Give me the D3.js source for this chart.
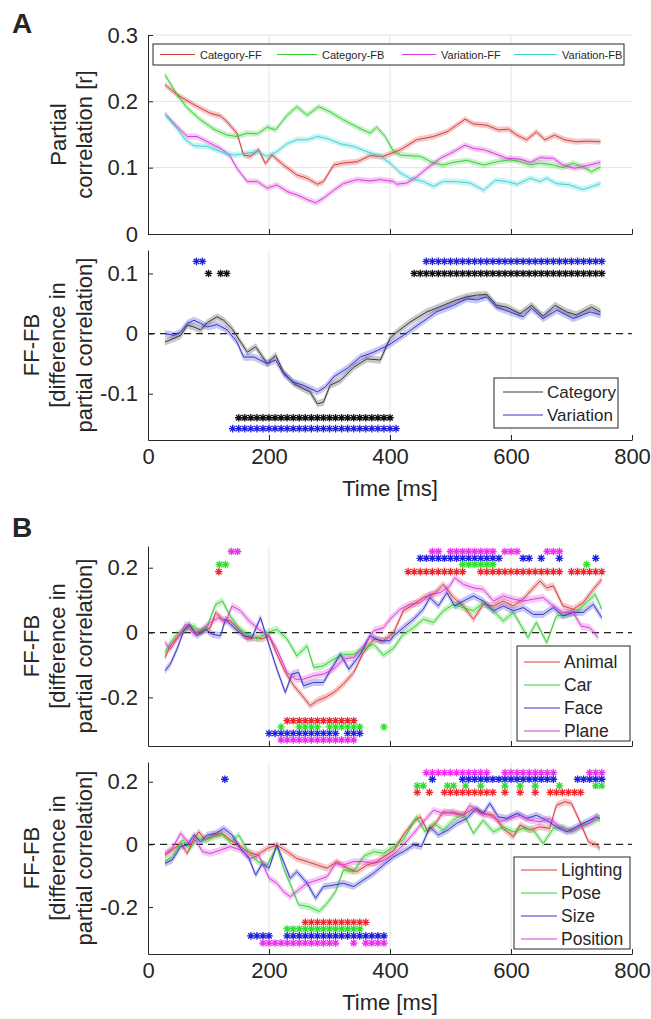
<!DOCTYPE html>
<html>
<head>
<meta charset="utf-8">
<script src="https://cdn.jsdelivr.net/npm/d3@7"></script>
<style>
  body { margin: 0; background: #fff; }
  svg { display: block; }
  text { font-family: "Liberation Sans", Arial, sans-serif; fill: #262626; }
</style>
</head>
<body>
<div id="chart"></div>
<script>
// ---- data: [time (ms), value] ----
const catFF = [[28,.225],[48,.21],[76,.195],[103,.182],[120,.178],[131,.169],[147,.152],[158,.119],[169,.117],[183,.127],[194,.106],[205,.119],[224,.104],[246,.089],[263,.084],[280,.075],[290,.079],[307,.104],[323,.107],[346,.109],[367,.118],[389,.117],[417,.127],[444,.142],[472,.147],[494,.154],[510,.164],[524,.173],[538,.166],[560,.164],[579,.157],[596,.158],[610,.149],[626,.142],[642,.154],[656,.142],[672,.149],[689,.142],[708,.139],[725,.140],[748,.139]];
const catFB = [[28,.24],[48,.21],[65,.19],[87,.172],[109,.158],[131,.149],[147,.147],[164,.152],[181,.151],[197,.161],[211,.157],[230,.179],[246,.192],[263,.179],[282,.192],[301,.184],[323,.172],[346,.161],[367,.152],[378,.161],[392,.147],[406,.124],[417,.119],[433,.118],[450,.117],[472,.107],[488,.104],[505,.108],[527,.111],[555,.104],[577,.109],[599,.112],[615,.109],[632,.104],[648,.107],[670,.104],[686,.10],[702,.107],[719,.101],[733,.094],[748,.101]];
const varFF = [[28,.181],[48,.162],[65,.147],[81,.147],[98,.139],[120,.129],[136,.117],[147,.099],[164,.079],[181,.079],[197,.069],[213,.074],[230,.064],[246,.059],[263,.052],[277,.047],[290,.054],[307,.066],[323,.076],[346,.082],[367,.080],[384,.082],[406,.079],[411,.075],[428,.077],[444,.086],[461,.099],[483,.114],[505,.124],[524,.134],[538,.129],[555,.127],[571,.122],[593,.114],[615,.113],[632,.108],[648,.115],[670,.114],[686,.104],[705,.099],[725,.103],[748,.108]];
const varFB = [[28,.181],[48,.159],[62,.142],[76,.133],[98,.132],[120,.124],[142,.119],[164,.122],[181,.124],[197,.117],[213,.124],[230,.136],[246,.142],[263,.142],[280,.147],[296,.144],[318,.136],[340,.132],[362,.124],[384,.117],[400,.107],[417,.092],[433,.084],[455,.079],[472,.072],[488,.079],[510,.079],[532,.077],[555,.066],[574,.081],[593,.079],[610,.075],[632,.084],[648,.079],[659,.084],[675,.076],[697,.074],[719,.067],[748,.076]];

const diffCategory = [[28,-.014],[43,-.008],[54,-.003],[65,.014],[76,.011],[87,.006],[98,.018],[114,.028],[125,.022],[139,.008],[153,-.014],[164,-.031],[178,-.022],[197,-.05],[211,-.036],[224,-.064],[241,-.083],[257,-.092],[268,-.097],[280,-.117],[290,-.114],[301,-.086],[318,-.078],[340,-.056],[362,-.042],[384,-.044],[400,-.008],[411,.002],[433,.019],[461,.036],[488,.047],[510,.056],[527,.061],[543,.064],[560,.065],[576,.047],[593,.044],[615,.033],[634,.047],[653,.029],[673,.047],[692,.036],[708,.031],[733,.044],[748,.036]];
const diffVariation = [[28,0],[43,-.003],[54,.003],[65,.017],[76,.022],[87,.017],[98,.011],[114,.015],[131,.006],[147,-.014],[158,-.039],[175,-.039],[197,-.05],[211,-.044],[224,-.067],[241,-.081],[257,-.086],[280,-.097],[293,-.089],[307,-.072],[329,-.058],[351,-.039],[373,-.031],[398,-.019],[422,-.003],[450,.017],[477,.036],[505,.047],[527,.058],[543,.056],[560,.061],[576,.044],[598,.036],[620,.028],[634,.042],[653,.025],[676,.039],[703,.025],[731,.036],[748,.031]];

const diffAnimal = [[28,-.077],[37,-.041],[48,-.015],[59,.005],[68,.02],[79,0],[92,.005],[103,.015],[112,.062],[123,.041],[136,.036],[150,.01],[164,-.02],[178,-.015],[189,-.02],[200,-.01],[213,-.067],[227,-.123],[241,-.164],[255,-.195],[268,-.226],[280,-.21],[293,-.2],[307,-.185],[323,-.159],[340,-.123],[356,-.062],[373,-.02],[389,-.025],[406,0],[422,.067],[439,.087],[455,.108],[472,.118],[488,.149],[505,.108],[521,.082],[538,.041],[554,.087],[571,.082],[587,.097],[604,.082],[620,.103],[637,.138],[648,.159],[659,.138],[670,.144],[686,.082],[703,.072],[719,.092],[736,.133],[750,.164]];
const diffCar = [[28,-.062],[37,-.031],[48,-.005],[62,.01],[76,.02],[87,0],[98,.02],[112,.087],[123,.097],[136,.051],[150,.015],[164,-.005],[181,-.02],[197,0],[213,.01],[230,-.02],[246,-.072],[263,-.041],[274,-.108],[290,-.103],[307,-.082],[323,-.067],[340,-.067],[356,-.051],[373,-.036],[389,-.07],[406,-.048],[422,-.005],[439,.015],[455,.041],[472,.031],[488,.067],[505,.087],[521,.077],[538,.067],[554,.092],[571,.067],[587,.036],[604,.062],[620,.01],[628,-.015],[642,.031],[659,-.031],[675,.051],[692,.056],[708,.062],[725,.092],[739,.118],[750,.072]];
const diffFace = [[28,-.118],[37,-.097],[48,-.051],[59,.005],[68,.026],[81,-.01],[95,.01],[106,-.005],[120,-.01],[128,.041],[142,.015],[158,-.01],[172,-.015],[186,.046],[197,-.02],[213,-.113],[227,-.185],[238,-.128],[249,-.123],[257,-.164],[274,-.154],[290,-.154],[301,-.118],[318,-.067],[332,-.113],[351,-.067],[367,-.01],[384,-.026],[400,-.025],[406,-.01],[422,.015],[439,.041],[455,.072],[466,.108],[480,.082],[494,.123],[507,.082],[521,.097],[538,.113],[554,.097],[571,.067],[587,.082],[604,.067],[620,.077],[637,.056],[653,.056],[670,.077],[686,.051],[703,.062],[719,.062],[736,.087],[750,.046]];
const diffPlane = [[28,-.031],[37,-.051],[48,-.02],[62,.026],[76,-.005],[90,.01],[103,.031],[117,.046],[128,.031],[139,.082],[153,.067],[167,.036],[183,.01],[200,-.01],[213,-.051],[230,-.123],[244,-.144],[257,-.144],[274,-.133],[290,-.128],[307,-.113],[323,-.082],[340,-.077],[356,-.041],[373,.005],[389,.015],[400,.041],[417,.072],[433,.087],[450,.092],[466,.118],[483,.123],[499,.144],[507,.169],[521,.149],[538,.138],[554,.133],[571,.097],[587,.113],[604,.103],[620,.097],[637,.103],[653,.108],[670,.082],[686,.062],[703,.062],[716,.02],[730,.015],[744,-.015]];

const diffLighting = [[28,-.034],[40,-.018],[54,.003],[65,-.029],[76,.019],[84,.04],[95,.014],[109,.03],[123,.035],[136,.014],[150,-.002],[164,-.023],[181,-.034],[197,-.013],[213,-.002],[230,-.023],[246,-.045],[263,-.055],[280,-.066],[296,-.076],[312,-.055],[329,-.076],[345,-.087],[362,-.066],[378,-.055],[389,-.04],[406,-.02],[422,.03],[439,.072],[450,.088],[463,.04],[477,.072],[488,.104],[505,.099],[521,.093],[538,.115],[554,.099],[571,.093],[587,.051],[604,.024],[615,.062],[631,.046],[648,.056],[664,.051],[675,.125],[689,.136],[700,.131],[714,.072],[728,.008],[741,-.002],[747,-.013]];
const diffPose = [[28,-.055],[40,-.039],[57,.014],[70,-.013],[81,.019],[95,.014],[109,.024],[123,.03],[136,.008],[150,.03],[164,-.018],[181,-.055],[197,-.066],[213,-.007],[224,-.076],[238,-.14],[249,-.193],[266,-.199],[283,-.214],[296,-.188],[310,-.151],[323,-.082],[340,-.087],[356,-.039],[373,-.023],[389,-.028],[406,-.007],[422,.014],[444,.088],[458,.04],[472,.067],[488,.046],[505,.077],[521,.099],[538,.035],[554,.077],[571,.04],[587,.056],[604,.04],[620,.051],[637,.046],[653,.003],[670,.051],[686,.056],[703,.04],[719,.062],[736,.072],[747,.083]];
const diffSize = [[28,-.061],[40,-.05],[54,-.007],[65,-.002],[76,.03],[87,.008],[98,.03],[112,.035],[125,.051],[139,.03],[153,-.013],[167,-.045],[178,-.098],[189,-.061],[200,-.076],[213,-.002],[224,-.055],[235,-.108],[246,-.087],[263,-.124],[277,-.172],[290,-.135],[307,-.13],[323,-.124],[340,-.135],[356,-.114],[373,-.092],[389,-.066],[406,-.04],[422,-.023],[439,-.002],[452,-.007],[466,.056],[480,.03],[496,.046],[510,.067],[527,.083],[543,.115],[554,.099],[565,.131],[579,.088],[593,.083],[610,.099],[626,.083],[642,.093],[659,.077],[675,.056],[692,.04],[708,.056],[725,.072],[741,.088],[747,.083]];
const diffPosition = [[28,-.029],[40,-.013],[54,.035],[68,.003],[79,.014],[90,-.023],[103,-.029],[120,-.018],[136,-.007],[153,-.018],[170,-.045],[183,-.034],[200,-.108],[213,-.124],[224,-.151],[235,-.167],[249,-.145],[263,-.124],[280,-.114],[296,-.103],[310,-.061],[323,-.066],[340,-.055],[356,-.055],[373,-.061],[389,-.052],[406,-.032],[422,-.002],[439,.035],[455,.072],[472,.109],[488,.099],[505,.104],[521,.093],[532,.125],[549,.099],[565,.093],[582,.072],[598,.083],[615,.093],[631,.077],[648,.072],[664,.083],[681,.056],[697,.04],[714,.056],[730,.067],[744,.093]];

// ---- significance intervals [start, end] in ms (one marker every 10 ms) ----
const sigCatHigh = [[100,100],[120,130],[440,750]];
const sigVarHigh = [[80,90],[460,750]];
const sigCatLow = [[150,400]];
const sigVarLow = [[140,410]];

const sigAnimalHigh = [[117,117],[430,520],[550,680],[700,750]];
const sigCarHigh = [[118,128],[520,570],[725,725]];
const sigFaceHigh = [[450,570],[580,580],[620,630],[650,650],[680,680],[740,740]];
const sigPlaneHigh = [[138,148],[470,480],[500,570],[590,610],[660,680]];
const sigAnimalLow = [[230,340]];
const sigCarLow = [[220,220],[250,280],[300,350],[390,390]];
const sigFaceLow = [[200,310],[330,350]];
const sigPlaneLow = [[220,340]];

const sigLightingHigh = [[445,445],[465,465],[490,570],[590,590],[615,615],[640,640],[665,715]];
const sigPoseHigh = [[445,455],[495,505],[525,525],[550,550],[590,590],[615,615],[640,640],[680,680],[740,750]];
const sigSizeHigh = [[127,127],[470,470],[520,670],[710,750]];
const sigPositionHigh = [[460,560],[590,670],[730,750]];
const sigLightingLow = [[260,360]];
const sigPoseLow = [[230,350]];
const sigSizeLow = [[170,200],[230,390]];
const sigPositionLow = [[190,310],[340,340],[360,390]];

// ---- labels / ticks ----
const xTicks = [0, 200, 400, 600, 800];
const legendA1 = ["Category-FF", "Category-FB", "Variation-FF", "Variation-FB"];
const legendA2 = ["Category", "Variation"];
const legendB1 = ["Animal", "Car", "Face", "Plane"];
const legendB2 = ["Lighting", "Pose", "Size", "Position"];

const col = {
    red: "#d83a3a", green: "#35cf35", magenta: "#d83cd8", cyan: "#3fd3d3", blue: "#3535cf", black: "#3a3a3a"
};
const starCol = {
    red: "#f0262b", green: "#2ee02e", magenta: "#f02ef0", blue: "#2020e0", black: "#111111"
};

const width = 651, height = 1019;
const plotLeft = 148, plotRight = 632;
const svg = d3.select("#chart").append("svg").attr("width", width).attr("height", height);
const x = d3.scaleLinear().domain([0, 800]).range([plotLeft, plotRight]);
const fmt = d => d === 0 ? "0" : String(d);

function starPath(r) {
    const a = r * 0.72;
    return `M${-r},0L${r},0M0,${-r}L0,${r}M${-a},${-a}L${a},${a}M${-a},${a}L${a},${-a}`;
}

function expand(intervals) {
    return intervals.flatMap(([a, b]) => d3.range(a, b + 0.1, 10));
}

function drawPanel(p) {
    const y = d3.scaleLinear().domain(p.yDomain).range([p.bottom, p.top]);
    const g = svg.append("g");

    // grid
    g.selectAll(".vgrid").data([200, 400, 600]).join("line")
        .attr("x1", d => x(d)).attr("x2", d => x(d))
        .attr("y1", p.top).attr("y2", p.bottom)
        .attr("stroke", "#e3e3e3").attr("stroke-width", 1);
    if (p.hGrid) {
        g.selectAll(".hgrid").data(p.hGrid).join("line")
            .attr("x1", plotLeft).attr("x2", plotRight)
            .attr("y1", d => y(d)).attr("y2", d => y(d))
            .attr("stroke", "#e3e3e3").attr("stroke-width", 1);
    }
    if (p.zeroLine) {
        g.append("line")
            .attr("x1", plotLeft).attr("x2", plotRight)
            .attr("y1", y(0)).attr("y2", y(0))
            .attr("stroke", "#222").attr("stroke-width", 1.2)
            .attr("stroke-dasharray", "7,5");
    }

    // shaded bands and lines
    const area = d3.area().x(d => x(d[0])).y0(d => y(d[1] - p.band)).y1(d => y(d[1] + p.band));
    const line = d3.line().x(d => x(d[0])).y(d => y(d[1]));
    p.series.forEach(s => {
        g.append("path").datum(s.data).attr("d", area)
            .attr("fill", s.color).attr("opacity", 0.28);
    });
    p.series.forEach(s => {
        g.append("path").datum(s.data).attr("d", line)
            .attr("fill", "none").attr("stroke", s.color).attr("stroke-width", 1);
    });

    // significance markers
    (p.stars || []).forEach(st => {
        g.selectAll(null).data(expand(st.intervals)).join("path")
            .attr("transform", d => `translate(${x(d)},${y(st.level)})`)
            .attr("d", starPath(3.8))
            .attr("fill", "none").attr("stroke", st.color).attr("stroke-width", 1.3);
    });

    // axes
    const yAxis = d3.axisLeft(y).tickValues(p.yTicks).tickFormat(fmt)
        .tickSize(-5).tickSizeOuter(0).tickPadding(10);
    const ya = g.append("g").attr("transform", `translate(${plotLeft},0)`).call(yAxis);
    const xAxis = d3.axisBottom(x).tickValues(xTicks).tickSize(-5).tickSizeOuter(0).tickPadding(8)
        .tickFormat(p.xLabels ? d3.format("d") : "");
    const xa = g.append("g").attr("transform", `translate(0,${p.bottom})`).call(xAxis);
    [ya, xa].forEach(a => {
        a.selectAll("path, line").attr("stroke", "#262626");
        a.selectAll("text").attr("fill", "#262626").style("font-size", "22px")
            .style("font-family", '"Liberation Sans", Arial, sans-serif');
    });

    // y label lines
    const cy = (p.top + p.bottom) / 2;
    p.yLabel.forEach((t, i) => {
        svg.append("text")
            .attr("transform", `translate(${p.yLabelX[i]},${cy}) rotate(-90)`)
            .attr("text-anchor", "middle").attr("dominant-baseline", "central")
            .style("font-size", "22px").text(t);
    });
    if (p.xLabels) {
        svg.append("text").attr("x", (plotLeft + plotRight) / 2).attr("y", p.bottom + 56)
            .attr("text-anchor", "middle").style("font-size", "22px").text("Time [ms]");
    }
    return y;
}

function drawLegend(box, items, font) {
    const g = svg.append("g");
    g.append("rect").attr("x", box.x).attr("y", box.y).attr("width", box.w).attr("height", box.h)
        .attr("fill", "#fff").attr("stroke", "#262626").attr("stroke-width", 1);
    items.forEach(it => {
        g.append("line").attr("x1", it.x1).attr("x2", it.x2).attr("y1", it.y).attr("y2", it.y)
            .attr("stroke", it.color).attr("stroke-width", 1.2);
        g.append("text").attr("x", it.tx).attr("y", it.y).attr("dominant-baseline", "central")
            .style("font-size", font + "px").text(it.label);
    });
}

// ---- Panel A, top ----
drawPanel({
    top: 35, bottom: 234, yDomain: [0, 0.3], yTicks: [0, 0.1, 0.2, 0.3], hGrid: [0.1, 0.2, 0.3],
    band: 0.0045, xLabels: false,
    series: [
        {data: catFF, color: col.red}, {data: catFB, color: col.green},
        {data: varFF, color: col.magenta}, {data: varFB, color: col.cyan}
    ],
    yLabel: ["Partial", "correlation [r]"], yLabelX: [58, 84]
});
drawLegend({x: 153, y: 44, w: 471, h: 21}, [
    {x1: 160, x2: 195, tx: 200, y: 54.5, color: col.red, label: legendA1[0]},
    {x1: 277, x2: 317, tx: 322, y: 54.5, color: col.green, label: legendA1[1]},
    {x1: 402, x2: 436, tx: 441, y: 54.5, color: col.magenta, label: legendA1[2]},
    {x1: 514, x2: 557, tx: 562, y: 54.5, color: col.cyan, label: legendA1[3]}
], 11);

// ---- Panel A, bottom ----
drawPanel({
    top: 250, bottom: 440, yDomain: [-0.177, 0.139], yTicks: [-0.1, 0, 0.1],
    band: 0.006, xLabels: true, zeroLine: true,
    series: [{data: diffCategory, color: col.black}, {data: diffVariation, color: col.blue}],
    stars: [
        {intervals: sigVarHigh, level: 0.12, color: starCol.blue},
        {intervals: sigCatHigh, level: 0.1, color: starCol.black},
        {intervals: sigCatLow, level: -0.14, color: starCol.black},
        {intervals: sigVarLow, level: -0.158, color: starCol.blue}
    ],
    yLabel: ["FF-FB", "[difference in", "partial correlation]"], yLabelX: [31, 57, 84]
});
drawLegend({x: 494, y: 378, w: 124, h: 50}, [
    {x1: 503, x2: 543, tx: 547, y: 392, color: col.black, label: legendA2[0]},
    {x1: 503, x2: 543, tx: 547, y: 415, color: col.blue, label: legendA2[1]}
], 17);

// ---- Panel B, top ----
drawPanel({
    top: 546, bottom: 746, yDomain: [-0.35, 0.267], yTicks: [-0.2, 0, 0.2],
    band: 0.011, xLabels: false, zeroLine: true,
    series: [
        {data: diffAnimal, color: col.red}, {data: diffCar, color: col.green},
        {data: diffFace, color: col.blue}, {data: diffPlane, color: col.magenta}
    ],
    stars: [
        {intervals: sigPlaneHigh, level: 0.25, color: starCol.magenta},
        {intervals: sigFaceHigh, level: 0.229, color: starCol.blue},
        {intervals: sigCarHigh, level: 0.21, color: starCol.green},
        {intervals: sigAnimalHigh, level: 0.188, color: starCol.red},
        {intervals: sigAnimalLow, level: -0.272, color: starCol.red},
        {intervals: sigCarLow, level: -0.291, color: starCol.green},
        {intervals: sigFaceLow, level: -0.311, color: starCol.blue},
        {intervals: sigPlaneLow, level: -0.331, color: starCol.magenta}
    ],
    yLabel: ["FF-FB", "[difference in", "partial correlation]"], yLabelX: [31, 57, 84]
});
drawLegend({x: 517, y: 646, w: 113, h: 95}, legendB1.map((l, i) => ({
    x1: 524, x2: 560, tx: 564, y: 662 + i * 23,
    color: [col.red, col.green, col.blue, col.magenta][i], label: l
})), 17.5);

// ---- Panel B, bottom ----
drawPanel({
    top: 762, bottom: 954, yDomain: [-0.35, 0.263], yTicks: [-0.2, 0, 0.2],
    band: 0.011, xLabels: true, zeroLine: true,
    series: [
        {data: diffLighting, color: col.red}, {data: diffPose, color: col.green},
        {data: diffSize, color: col.blue}, {data: diffPosition, color: col.magenta}
    ],
    stars: [
        {intervals: sigPositionHigh, level: 0.229, color: starCol.magenta},
        {intervals: sigSizeHigh, level: 0.208, color: starCol.blue},
        {intervals: sigPoseHigh, level: 0.187, color: starCol.green},
        {intervals: sigLightingHigh, level: 0.166, color: starCol.red},
        {intervals: sigLightingLow, level: -0.249, color: starCol.red},
        {intervals: sigPoseLow, level: -0.27, color: starCol.green},
        {intervals: sigSizeLow, level: -0.292, color: starCol.blue},
        {intervals: sigPositionLow, level: -0.315, color: starCol.magenta}
    ],
    yLabel: ["FF-FB", "[difference in", "partial correlation]"], yLabelX: [31, 57, 84]
});
drawLegend({x: 514, y: 857, w: 116, h: 92}, legendB2.map((l, i) => ({
    x1: 521, x2: 557, tx: 561, y: 870 + i * 23,
    color: [col.red, col.green, col.blue, col.magenta][i], label: l
})), 17.5);

// panel letters
svg.append("text").attr("x", 12).attr("y", 33).style("font-size", "28px").style("font-weight", "bold").text("A");
svg.append("text").attr("x", 12).attr("y", 537).style("font-size", "28px").style("font-weight", "bold").text("B");
</script>
</body>
</html>
